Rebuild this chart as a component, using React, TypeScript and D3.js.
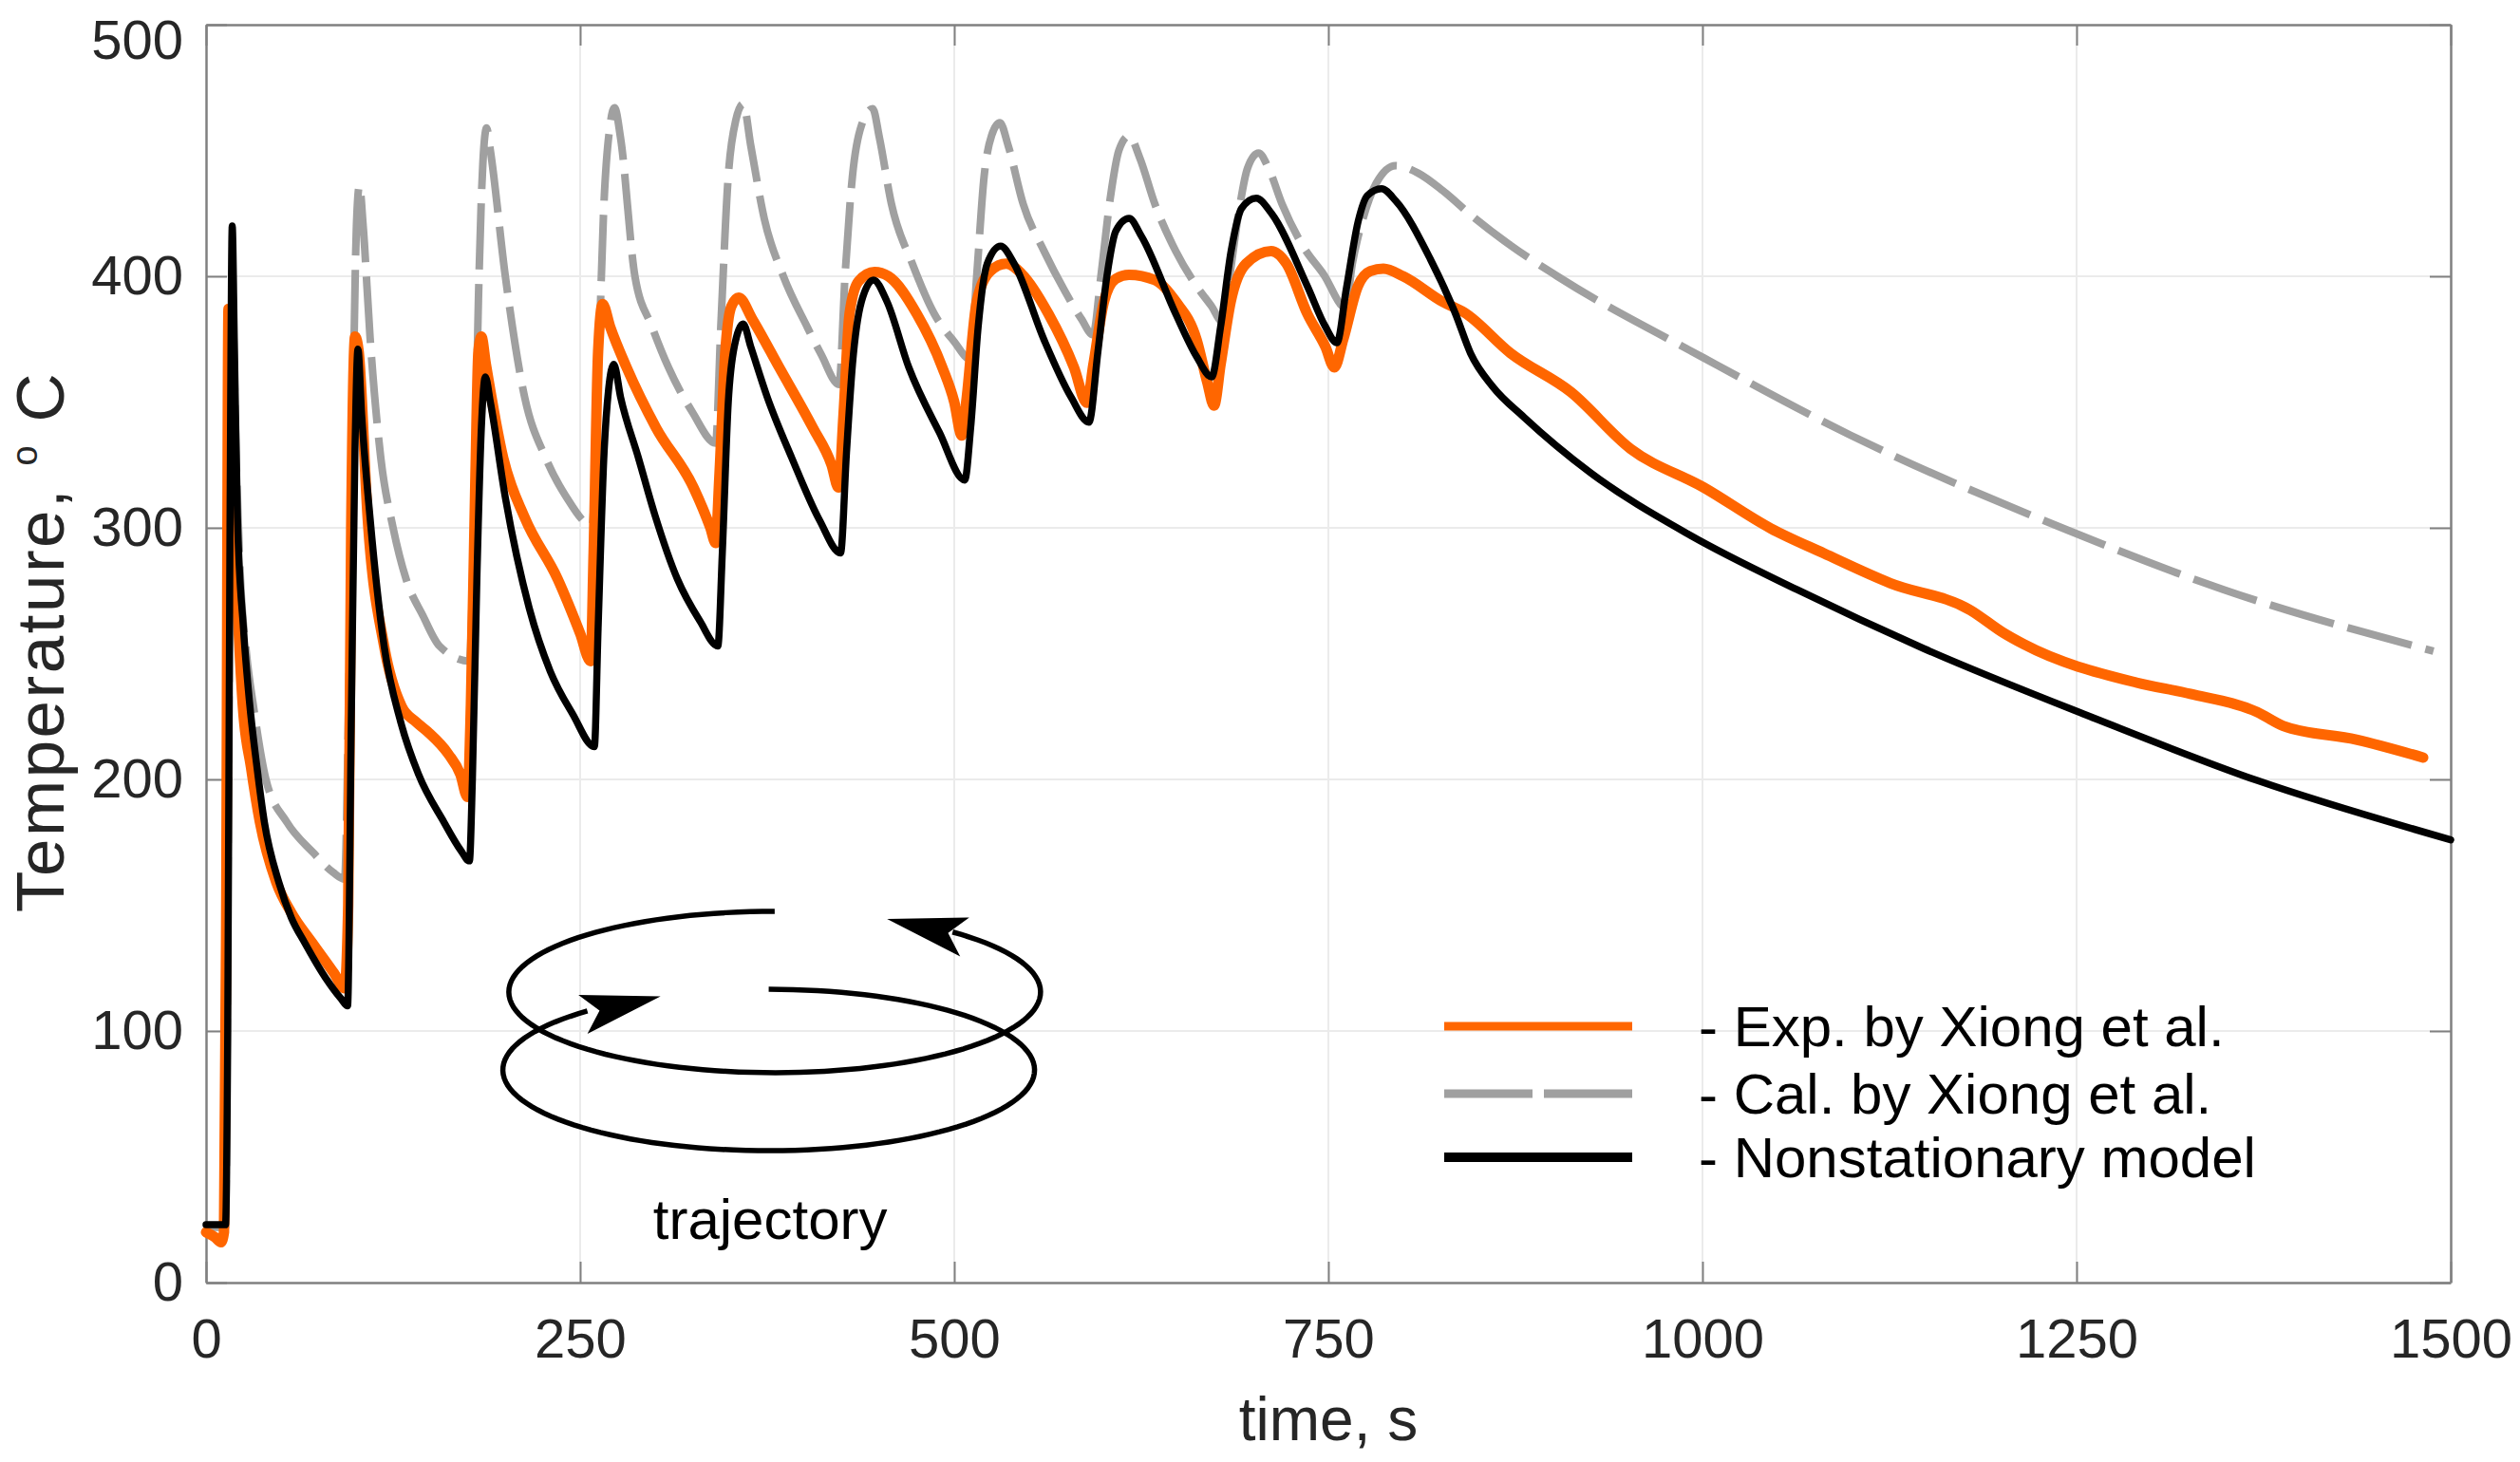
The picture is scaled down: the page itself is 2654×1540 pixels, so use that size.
import React, { useEffect, useRef } from "react";
import * as d3 from "d3";

// axis ticks
const xTicks = [0, 250, 500, 750, 1000, 1250, 1500];
const yTicks = [0, 100, 200, 300, 400, 500];

// Exp. by Xiong et al. (orange)
const expTime = [
  0, 6, 10, 12, 13.5, 15, 16.5, 18, 21, 24.6, 30, 36, 47, 57, 71, 85.5, 92.6, 95, 97, 99.6,
  102, 108, 119, 130.7, 140, 148, 162, 170, 174.7, 177, 180, 182, 184, 187, 198.6, 213, 235,
  250, 257, 259, 262, 265, 270, 281, 300.8, 326, 337, 340.5, 343, 347, 351, 356, 365, 383,
  405.6, 418, 422.6, 426, 430, 436, 446.7, 456, 475, 492, 500, 505, 508, 515, 524, 534.8, 545,
  563, 580, 588.6, 593, 600, 608, 616.8, 634, 648, 662, 669, 673.6, 678, 684.7, 695, 711.8,
  722, 736, 748, 754, 760, 769.7, 778, 786.8, 800, 826.5, 840.8, 871.8, 912, 952, 1001,
  1045.6, 1081, 1125.6, 1179, 1201, 1214.5, 1290, 1326, 1370.6, 1388, 1437, 1481.6,
];
const expTemp = [
  20, 18, 16, 20, 150, 387, 372, 320, 270, 229, 205, 183, 159, 147, 135, 123, 117, 150, 300, 376,
  370, 304, 253, 229, 223, 219, 210, 202, 193, 230, 320, 370, 376, 365, 327.7, 304, 279.6,
  258, 247, 290, 370, 389, 380, 363.8, 339.7, 315.7, 300, 294, 320, 370, 388, 391.5, 383, 363.8,
  339.7, 325, 316, 345, 385, 398, 401.7, 400, 385, 363.8, 350, 336.7, 350, 389.8, 402, 405, 401,
  385, 363.8, 349.7, 365, 389.8, 399, 400.6, 398.5, 390, 374.7, 358, 348.6, 365, 389.8, 405, 410,
  405, 385, 372, 363.8, 375, 396, 402, 403, 400, 389.8, 385.6, 369.4, 354, 331.4, 316,
  299.8, 289.9, 278, 267.3, 258.3, 253.8, 238.5, 234, 226.8, 221.3, 215.8, 208.7,
];

// Cal. by Xiong et al. (grey dashed)
const calTime = [
  0, 13, 15, 17.5, 20, 23, 27, 31.7, 40, 54, 71.4, 85, 92.6, 95, 98, 100.5, 102.5, 105, 109.6,
  116.8, 125, 133.7, 145, 156, 176, 179, 182, 185, 187.5, 190, 200, 213, 227, 240, 258, 262, 266,
  270, 273, 277, 286.6, 298, 309, 325, 340.5, 344, 349, 354, 359, 364, 373, 385.8, 401.6, 411,
  423, 427, 432, 438, 445.5, 450, 458, 472, 486.7, 500, 510.7, 515, 520, 525, 530.5, 536, 546,
  560, 574, 585, 592.7, 598, 604, 610, 616.8, 624, 634, 648, 662, 672, 679, 684, 690, 696, 703.3,
  710, 719, 733, 747, 761.4, 766, 772.7, 782, 795, 810, 826.5, 846, 870, 903, 1001, 1099, 1241,
  1348, 1488.5,
];
const calTemp = [
  22, 22, 200, 390, 330, 279.6, 250, 229, 200, 183, 171, 163, 160.4, 220, 340, 420, 436, 420, 375.8,
  327.7, 300, 279.6, 265, 253, 247, 300, 390, 445, 459, 450, 400, 351.7, 327.7, 313, 301, 360, 430,
  460, 467, 455, 400, 380, 363.8, 346, 333.7, 380, 440, 462, 468.5, 452, 423, 400, 380, 369,
  357, 400, 440, 460, 466.6, 455, 428.8, 405, 385, 374, 367, 400, 440, 456, 461, 452, 428.8,
  410, 394, 383, 376.7, 400, 430, 450, 455.8, 447, 428.8, 410, 396, 388, 382, 400, 425, 443, 449,
  443, 428.8, 412, 400.6, 387.5, 405, 422, 437, 444, 441, 434, 424, 413, 400, 367.5, 336.8, 299.8,
  275.5, 251,
];

// Nonstationary model (black)
const modelTime = [
  0, 13, 14.5, 16, 17.5, 19, 21, 25, 29, 34, 39, 48.7, 57, 66, 80, 90, 94.6, 97, 99.5, 101.5, 104,
  109.6, 119, 130, 142, 159, 170, 176, 178, 181, 184, 186.6, 190, 200, 216, 230, 245, 259.5, 262,
  266, 269, 272.5, 277, 289, 300, 315, 330, 342, 345, 349, 353, 359, 364, 375, 391.5, 410, 424,
  428, 432, 438, 446, 455, 469.6, 490, 507, 511, 516, 522, 531, 540, 560, 578, 590, 596, 602, 608,
  616.8, 625, 648, 662, 672, 678, 685, 692, 701.8, 712, 736, 748, 755.7, 762, 770, 776, 785.5, 795,
  818, 835, 845, 860, 880.7, 925, 992, 1063, 1148, 1259, 1370.6, 1500,
];
const modelTemp = [
  23, 23, 100, 300, 420, 370, 304, 260, 231, 205, 183, 159, 145, 135, 121, 113, 110, 220, 330, 371, 345,
  304, 253, 223, 202, 183, 172, 167.6, 200, 280, 340, 360, 350, 312, 268, 243, 226, 213, 260,
  330, 355, 365, 352, 327.7, 305, 279.6, 263, 253, 290, 350, 372, 381, 372, 352, 327.7, 303, 290,
  330, 365, 390, 398.5, 390, 363.8, 338, 319, 340, 380, 405, 412, 405, 374.7, 352, 342, 370, 400, 418,
  423, 416, 385, 368, 360, 380, 410, 427, 431, 425, 396, 380, 373.6, 395, 422, 432, 434.8, 430,
  407, 385, 369.4, 356, 344, 322, 297, 275.5, 252, 225, 199.6, 176,
];

const legendLabels = ["- Exp. by Xiong et al.", "- Cal. by Xiong et al.", "- Nonstationary model"];

const FONT = "'Liberation Sans', Arial, Helvetica, sans-serif";

const App: React.FC = () => {
  const ref = useRef<SVGSVGElement | null>(null);

  useEffect(() => {
    const svg = d3.select(ref.current);
    svg.selectAll("*").remove();

    const left = 217, right = 2581, top = 26, bottom = 1351;
    const x = d3.scaleLinear().domain([0, 1500]).range([left, right]);
    const y = d3.scaleLinear().domain([0, 500]).range([bottom, top]);

    svg.append("rect").attr("width", 2654).attr("height", 1540).attr("fill", "#fff");

    // grid
    const grid = svg.append("g").attr("stroke", "#ebebeb").attr("stroke-width", 2);
    grid
      .selectAll("line.gx")
      .data(xTicks.slice(1, -1))
      .join("line")
      .attr("x1", (d) => x(d))
      .attr("x2", (d) => x(d))
      .attr("y1", top)
      .attr("y2", bottom);
    grid
      .selectAll("line.gy")
      .data(yTicks.slice(1, -1))
      .join("line")
      .attr("x1", left)
      .attr("x2", right)
      .attr("y1", (d) => y(d))
      .attr("y2", (d) => y(d));

    // axes (MATLAB style, ticks inside, box on)
    const styleAxis = (g: d3.Selection<SVGGElement, unknown, null, undefined>) => {
      g.select(".domain").attr("stroke", "#808080").attr("stroke-width", 2.5);
      g.selectAll(".tick line").attr("stroke", "#808080").attr("stroke-width", 2);
      g.selectAll(".tick text")
        .attr("fill", "#262626")
        .style("font-family", FONT)
        .style("font-size", "58px");
    };
    const fmt = d3.format("d");

    svg
      .append("g")
      .attr("transform", `translate(0,${bottom})`)
      .call(
        d3.axisBottom(x).tickValues(xTicks).tickFormat((d) => fmt(d as number))
          .tickSizeInner(-22).tickSizeOuter(0).tickPadding(38)
      )
      .call(styleAxis);
    svg
      .append("g")
      .attr("transform", `translate(0,${top})`)
      .call(d3.axisTop(x).tickValues(xTicks).tickSizeInner(-22).tickSizeOuter(0).tickFormat(() => ""))
      .call(styleAxis);
    const yAxis = svg
      .append("g")
      .attr("transform", `translate(${left},0)`)
      .call(
        d3.axisLeft(y).tickValues(yTicks).tickFormat((d) => fmt(d as number))
          .tickSizeInner(-22).tickSizeOuter(0).tickPadding(24)
      )
      .call(styleAxis);
    yAxis
      .selectAll<SVGTextElement, number>(".tick text")
      .filter((d) => d === 500)
      .attr("dy", "0.62em");
    svg
      .append("g")
      .attr("transform", `translate(${right},0)`)
      .call(d3.axisRight(y).tickValues(yTicks).tickSizeInner(-22).tickSizeOuter(0).tickFormat(() => ""))
      .call(styleAxis);

    // series
    const line = d3
      .line<[number, number]>()
      .x((d) => x(d[0]))
      .y((d) => y(d[1]))
      .curve(d3.curveMonotoneX);

    const zip = (t: number[], v: number[]) => t.map((ti, i) => [ti, v[i]] as [number, number]);

    svg
      .append("path")
      .datum(zip(calTime, calTemp))
      .attr("d", line)
      .attr("fill", "none")
      .attr("stroke", "#a0a0a0")
      .attr("stroke-width", 8)
      .attr("stroke-dasharray", "70 15");
    svg
      .append("path")
      .datum(zip(expTime, expTemp))
      .attr("d", line)
      .attr("fill", "none")
      .attr("stroke", "#ff6600")
      .attr("stroke-width", 11)
      .attr("stroke-linejoin", "round")
      .attr("stroke-linecap", "round");
    svg
      .append("path")
      .datum(zip(modelTime, modelTemp))
      .attr("d", line)
      .attr("fill", "none")
      .attr("stroke", "#000")
      .attr("stroke-width", 7.5)
      .attr("stroke-linejoin", "round")
      .attr("stroke-linecap", "round");

    // axis labels
    svg
      .append("text")
      .attr("x", (left + right) / 2)
      .attr("y", 1517)
      .attr("text-anchor", "middle")
      .attr("fill", "#262626")
      .style("font-family", FONT)
      .style("font-size", "64px")
      .text("time, s");

    const yl = svg
      .append("text")
      .attr("transform", `translate(67,961) rotate(-90)`)
      .attr("text-anchor", "start")
      .attr("fill", "#262626")
      .style("font-family", FONT)
      .style("font-size", "71px")
      .style("letter-spacing", "2.5px");
    yl.append("tspan").text("Temperature,\u00a0");
    yl.append("tspan").attr("dy", -28).style("font-size", "38px").text("o");
    yl.append("tspan").attr("dy", 28).text("\u00a0C");

    // legend
    const legendColors = ["#ff6600", "#a0a0a0", "#000"];
    const legendWidths = [9, 9, 10];
    const legendDash = [null, "93 12", null];
    const legendY = [1081, 1152, 1219];
    const lg = svg.append("g");
    legendLabels.forEach((lab, i) => {
      lg.append("line")
        .attr("x1", 1521)
        .attr("x2", 1719)
        .attr("y1", legendY[i])
        .attr("y2", legendY[i])
        .attr("stroke", legendColors[i])
        .attr("stroke-width", legendWidths[i])
        .attr("stroke-dasharray", legendDash[i]);
      lg.append("text")
        .attr("x", 1789)
        .attr("y", legendY[i] + 21)
        .attr("fill", "#000")
        .style("font-family", FONT)
        .style("font-size", "60px")
        .text(lab);
    });

    // trajectory sketch
    const traj = svg.append("g");
    const rx = 280, ry = 85;
    const arcPts = (cx: number, cy: number, a0: number, a1: number) =>
      d3.range(0, 121).map((k) => {
        const a = ((a0 + ((a1 - a0) * k) / 120) * Math.PI) / 180;
        return [cx + rx * Math.cos(a), cy + ry * Math.sin(a)] as [number, number];
      });
    const arrowHead = (cx: number, cy: number, aBack: number, aTip: number) => {
      const b = [cx + rx * Math.cos((aBack * Math.PI) / 180), cy + ry * Math.sin((aBack * Math.PI) / 180)];
      const t = [cx + rx * Math.cos((aTip * Math.PI) / 180), cy + ry * Math.sin((aTip * Math.PI) / 180)];
      const dx = t[0] - b[0], dy = t[1] - b[1];
      const len = Math.hypot(dx, dy);
      const ux = dx / len, uy = dy / len;
      const base = [t[0] - ux * 84, t[1] - uy * 84];
      const notch = [t[0] - ux * 66, t[1] - uy * 66];
      return [
        t,
        [base[0] - uy * 21, base[1] + ux * 21],
        notch,
        [base[0] + uy * 21, base[1] - ux * 21],
      ] as [number, number][];
    };
    const plain = d3.line();
    const cxU = x(380), cyU = y(115.5);
    const cxL = x(376), cyL = y(84.5);
    traj
      .append("path")
      .attr("d", plain(arcPts(cxU, cyU, -90, -408)))
      .attr("fill", "none")
      .attr("stroke", "#000")
      .attr("stroke-width", 5.5);
    traj
      .append("path")
      .attr("d", plain(arcPts(cxL, cyL, -90, 227)))
      .attr("fill", "none")
      .attr("stroke", "#000")
      .attr("stroke-width", 5.5);
    traj.append("path").attr("d", plain(arrowHead(cxU, cyU, -400, -425)) + "Z").attr("fill", "#000");
    traj.append("path").attr("d", plain(arrowHead(cxL, cyL, 219, 246)) + "Z").attr("fill", "#000");
    traj
      .append("text")
      .attr("x", x(377))
      .attr("y", 1305)
      .attr("text-anchor", "middle")
      .attr("fill", "#000")
      .style("font-family", FONT)
      .style("font-size", "60px")
      .text("trajectory");
  }, []);

  return (
    <svg
      ref={ref}
      width={2654}
      height={1540}
      style={{ position: "absolute", left: 0, top: 0, background: "#fff" }}
    />
  );
};

export default App;
